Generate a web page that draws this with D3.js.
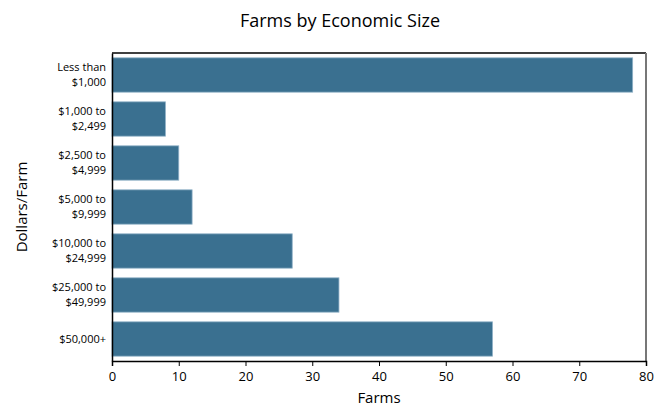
<!DOCTYPE html>
<html>
<head>
<meta charset="utf-8">
<script src="https://cdn.jsdelivr.net/npm/d3@7"></script>
<style>
  body { margin: 0; background: #fff; }
  text { font-family: "Open Sans", "DejaVu Sans", sans-serif; fill: #000; }
</style>
</head>
<body>
<div id="chart"></div>
<script>
const categories = [
  ["Less than", "$1,000"],
  ["$1,000 to", "$2,499"],
  ["$2,500 to", "$4,999"],
  ["$5,000 to", "$9,999"],
  ["$10,000 to", "$24,999"],
  ["$25,000 to", "$49,999"],
  ["$50,000+"]
]
const farms = [78, 8, 10, 12, 27, 34, 57]
const xTicks = [0, 10, 20, 30, 40, 50, 60, 70, 80]

const W = 667, H = 409
const MARGIN = { TOP: 53, BOTTOM: 48, LEFT: 112, RIGHT: 21 }
const WIDTH = W - MARGIN.LEFT - MARGIN.RIGHT
const HEIGHT = H - MARGIN.TOP - MARGIN.BOTTOM

const svg = d3.select("#chart").append("svg")
  .attr("width", W)
  .attr("height", H)

const g = svg.append("g")
  .attr("transform", `translate(${MARGIN.LEFT}, ${MARGIN.TOP})`)

const keys = categories.map(d => d.join(" "))

const x = d3.scaleLinear()
  .domain([0, 80])
  .range([0, WIDTH])

const y = d3.scaleBand()
  .domain(keys)
  .range([0, HEIGHT])
  .paddingInner(0.22)
  .paddingOuter(0.11)

// frame: top black, right grey
g.append("line")
  .attr("x1", 0).attr("x2", WIDTH)
  .attr("y1", 0).attr("y2", 0)
  .attr("stroke", "#000").attr("stroke-width", 1.5)
g.append("line")
  .attr("x1", WIDTH).attr("x2", WIDTH)
  .attr("y1", 0).attr("y2", HEIGHT)
  .attr("stroke", "#777").attr("stroke-width", 2)

// bars
g.selectAll("rect.bar")
  .data(farms)
  .enter().append("rect")
    .attr("class", "bar")
    .attr("x", x(0))
    .attr("y", (d, i) => y(keys[i]))
    .attr("width", d => x(d) - x(0))
    .attr("height", y.bandwidth())
    .attr("fill", "#3a7090")
    .attr("stroke", "#8fb0c6")
    .attr("stroke-width", 0.8)

// x axis
const xAxis = g.append("g")
  .attr("transform", `translate(0, ${HEIGHT})`)
  .call(d3.axisBottom(x).tickValues(xTicks).tickSizeOuter(0).tickSize(5).tickPadding(6))
xAxis.select(".domain").attr("stroke", "#000").attr("stroke-width", 1.5)
xAxis.selectAll("text").attr("font-size", "13px")

// y axis, two-line labels
const yAxis = g.append("g")
  .call(d3.axisLeft(y).tickSize(0).tickSizeOuter(0).tickPadding(6))
yAxis.select(".domain").attr("stroke", "#000").attr("stroke-width", 1.5)
yAxis.selectAll(".tick text").each(function(d, i) {
  const lines = categories[i]
  const t = d3.select(this).text(null).attr("font-size", "11px")
  const off = (lines.length - 1) * 0.68
  lines.forEach((l, j) => {
    t.append("tspan")
      .attr("x", -6)
      .attr("dy", j === 0 ? `${0.32 - off}em` : "1.36em")
      .text(l)
  })
})

// titles
svg.append("text")
  .attr("x", 340)
  .attr("y", 27)
  .attr("text-anchor", "middle")
  .attr("font-size", "18px")
  .attr("font-weight", 500)
  .text("Farms by Economic Size")

svg.append("text")
  .attr("x", MARGIN.LEFT + WIDTH / 2)
  .attr("y", 403)
  .attr("text-anchor", "middle")
  .attr("font-size", "15px")
  .attr("font-weight", 500)
  .text("Farms")

svg.append("text")
  .attr("transform", `translate(27, ${MARGIN.TOP + HEIGHT / 2}) rotate(-90)`)
  .attr("text-anchor", "middle")
  .attr("font-size", "15px")
  .attr("font-weight", 500)
  .text("Dollars/Farm")
</script>
</body>
</html>
